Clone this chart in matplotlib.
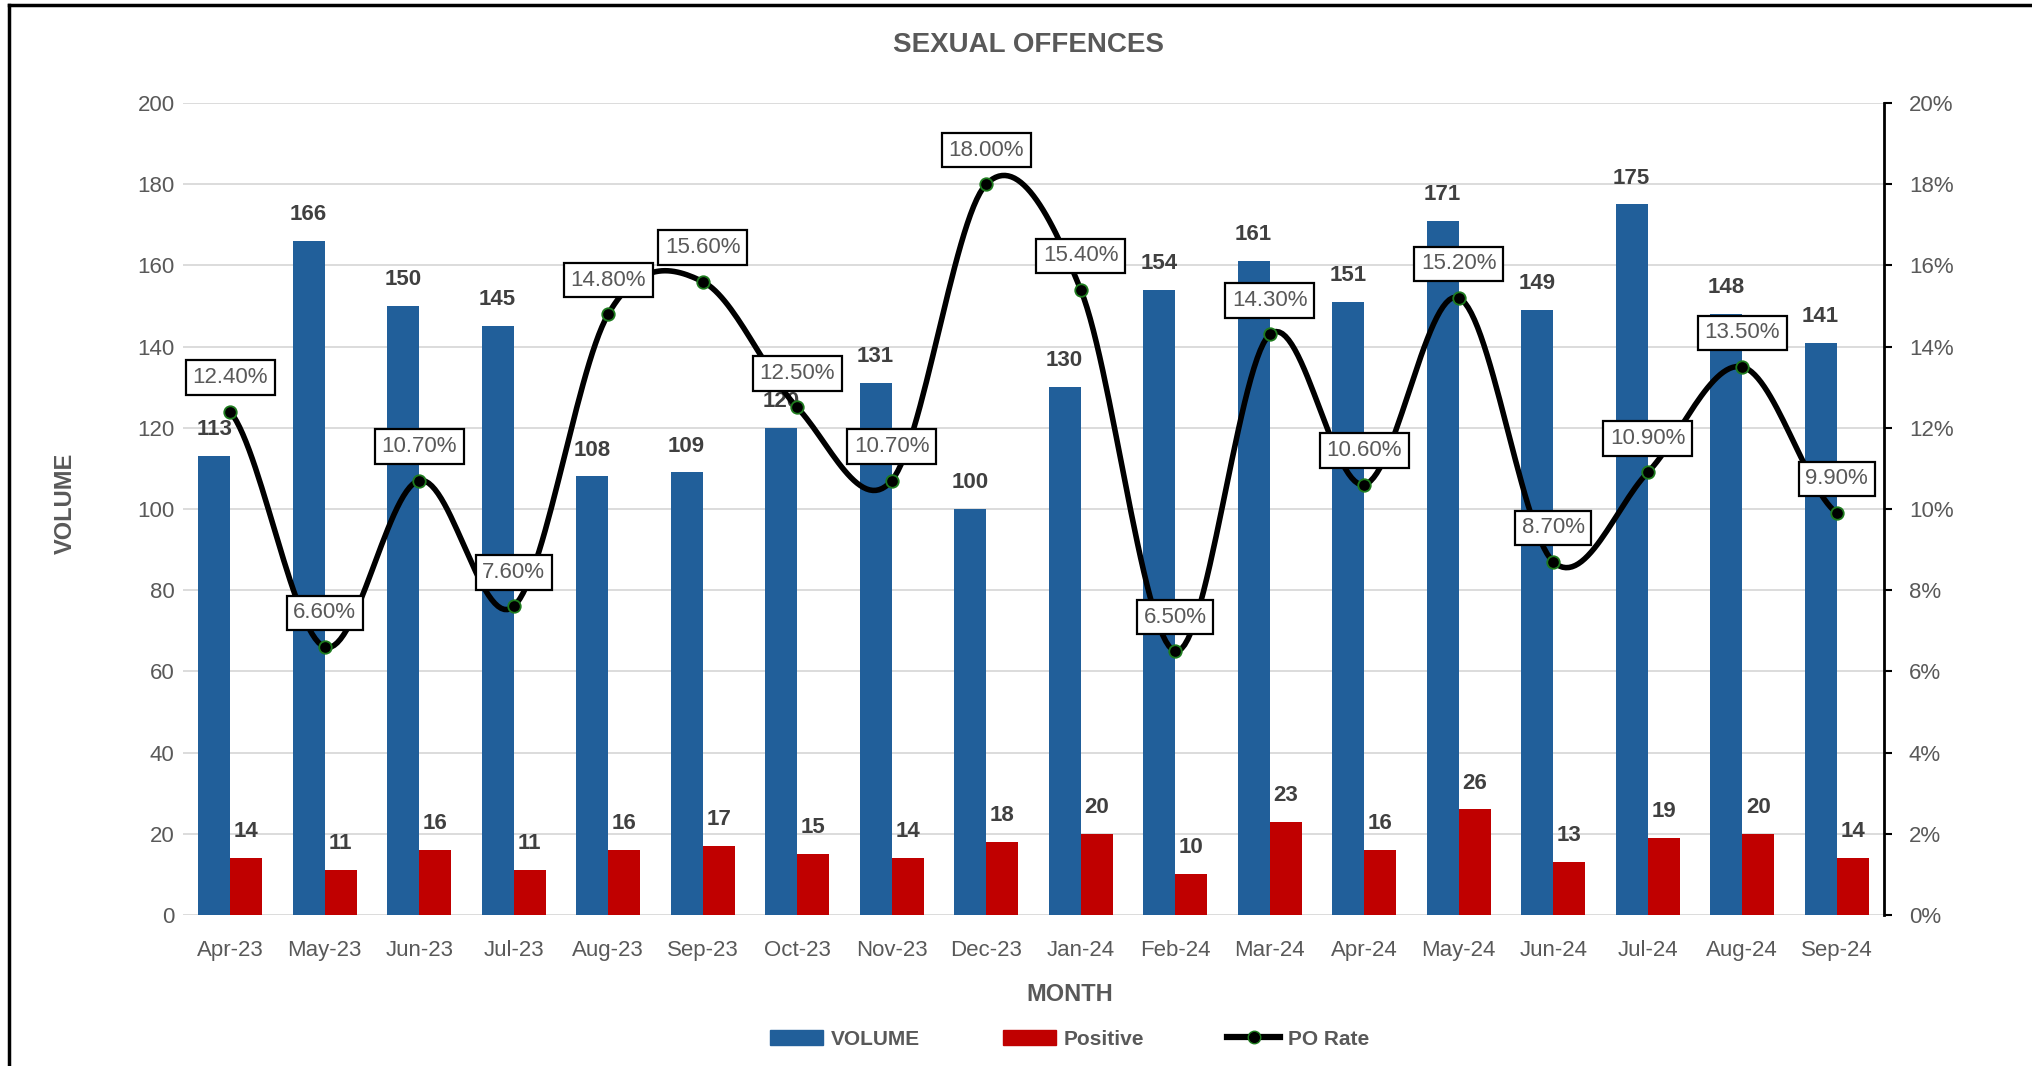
import numpy as np
import matplotlib
matplotlib.use('Agg')
import matplotlib.pyplot as plt
from matplotlib.lines import Line2D
from matplotlib.patches import Patch

plt.rcParams['font.family'] = ['Liberation Sans', 'DejaVu Sans']

months = ['Apr-23', 'May-23', 'Jun-23', 'Jul-23', 'Aug-23', 'Sep-23', 'Oct-23', 'Nov-23', 'Dec-23',
          'Jan-24', 'Feb-24', 'Mar-24', 'Apr-24', 'May-24', 'Jun-24', 'Jul-24', 'Aug-24', 'Sep-24']
volume = [113, 166, 150, 145, 108, 109, 120, 131, 100, 130, 154, 161, 151, 171, 149, 175, 148, 141]
positive = [14, 11, 16, 11, 16, 17, 15, 14, 18, 20, 10, 23, 16, 26, 13, 19, 20, 14]
po_rate = [12.4, 6.6, 10.7, 7.6, 14.8, 15.6, 12.5, 10.7, 18.0, 15.4, 6.5, 14.3, 10.6, 15.2, 8.7, 10.9, 13.5, 9.9]

BLUE = '#215F9A'
RED = '#C00000'
GRAY = '#595959'
DARK = '#404040'


def smooth_line(y, steps=30):
    # Excel-style smoothed line (Catmull-Rom through the points)
    y = np.asarray(y, dtype=float)
    n = len(y)
    m = np.zeros(n)
    m[1:-1] = (y[2:] - y[:-2]) / 2
    m[0] = (y[1] - y[0]) / 2
    m[-1] = (y[-1] - y[-2]) / 2
    xs, ys = [], []
    for i in range(n - 1):
        t = np.linspace(0, 1, steps, endpoint=False)
        h00 = 2 * t**3 - 3 * t**2 + 1
        h10 = t**3 - 2 * t**2 + t
        h01 = -2 * t**3 + 3 * t**2
        h11 = t**3 - t**2
        xs.append(i + t)
        ys.append(h00 * y[i] + h10 * m[i] + h01 * y[i + 1] + h11 * m[i + 1])
    xs.append([n - 1])
    ys.append([y[-1]])
    return np.concatenate(xs), np.concatenate(ys)


fig = plt.figure(figsize=(20.33, 10.66), dpi=100)
ax = fig.add_axes([0.090, 0.1417, 0.8367, 0.7617])
ax2 = ax.twinx()

x = np.arange(len(months))
w = 0.34
ax.bar(x - w / 2, volume, w, color=BLUE, zorder=2, label='VOLUME')
ax.bar(x + w / 2, positive, w, color=RED, zorder=2, label='Positive')

for xi, v in zip(x, volume):
    ax.annotate(str(v), (xi - w / 2, v), xytext=(0, 19), textcoords='offset points',
                ha='center', va='center', fontsize=16, fontweight='bold', color=DARK, zorder=3)
for xi, v in zip(x, positive):
    ax.annotate(str(v), (xi + w / 2, v), xytext=(0, 19), textcoords='offset points',
                ha='center', va='center', fontsize=16, fontweight='bold', color=DARK, zorder=3)

ax.set_xlim(-0.5, len(months) - 0.5)
ax.set_ylim(0, 200)
ax.set_yticks(range(0, 201, 20))
ax.set_xticks(x)
ax.set_xticklabels(months)
ax.grid(axis='y', color='#D9D9D9', linewidth=1.3, zorder=0)
ax.set_axisbelow(True)
for s in ax.spines.values():
    s.set_visible(False)
ax.tick_params(axis='both', length=0, labelsize=16, labelcolor=GRAY)
ax.tick_params(axis='x', pad=18)
ax.tick_params(axis='y', pad=6)

sx, sy = smooth_line(po_rate)
ax2.plot(sx, sy, color='black', linewidth=4, zorder=3, solid_capstyle='round')
ax2.plot(x, po_rate, linestyle='none', marker='o', markersize=9, markerfacecolor='black',
         markeredgecolor='#1E7B1E', markeredgewidth=1.3, zorder=4)
for xi, r in zip(x, po_rate):
    ax2.annotate('{:.2f}%'.format(r), (xi, r), xytext=(0, 24.5), textcoords='offset points',
                 ha='center', va='center', fontsize=16, color=GRAY, zorder=5,
                 bbox=dict(boxstyle='square,pad=0.3', facecolor='white', edgecolor='black', linewidth=1.6))

ax2.set_ylim(0, 20)
ax2.set_yticks(range(0, 21, 2))
ax2.set_yticklabels(['{}%'.format(v) for v in range(0, 21, 2)])
for name, s in ax2.spines.items():
    s.set_visible(name == 'right')
ax2.spines['right'].set_linewidth(2)
ax2.tick_params(axis='y', direction='out', length=6, width=1.5, labelsize=16, labelcolor=GRAY, pad=12)

fig.text(0.506, 0.958, 'SEXUAL OFFENCES', ha='center', va='center', fontsize=20, fontweight='bold', color=GRAY)
fig.text(0.032, 0.528, 'VOLUME', ha='center', va='center', rotation=90, fontsize=17, fontweight='bold', color=GRAY)
fig.text(0.526, 0.0675, 'MONTH', ha='center', va='center', fontsize=17, fontweight='bold', color=GRAY)

handles = [Patch(color=BLUE, label='VOLUME'), Patch(color=RED, label='Positive'),
           Line2D([], [], color='black', linewidth=4.5, marker='o', markersize=9, markerfacecolor='black',
                  markeredgecolor='#1E7B1E', label='PO Rate')]
leg = fig.legend(handles=handles, loc='center', bbox_to_anchor=(0.526, 0.0253), ncol=3, frameon=False,
                 prop={'size': 15, 'weight': 'bold'}, handlelength=2.55, handleheight=0.7,
                 handletextpad=0.35, columnspacing=4.0)
for t in leg.get_texts():
    t.set_color(GRAY)

# outer frame on the left and top
fig.add_artist(Line2D([8.5 / 2033, 8.5 / 2033], [0, 1 - 4.5 / 1066], transform=fig.transFigure, color='black', linewidth=2.5))
fig.add_artist(Line2D([8.5 / 2033, 1], [1 - 4.5 / 1066, 1 - 4.5 / 1066], transform=fig.transFigure, color='black', linewidth=2.5))

fig.savefig('out.png', dpi=100, facecolor='white')
